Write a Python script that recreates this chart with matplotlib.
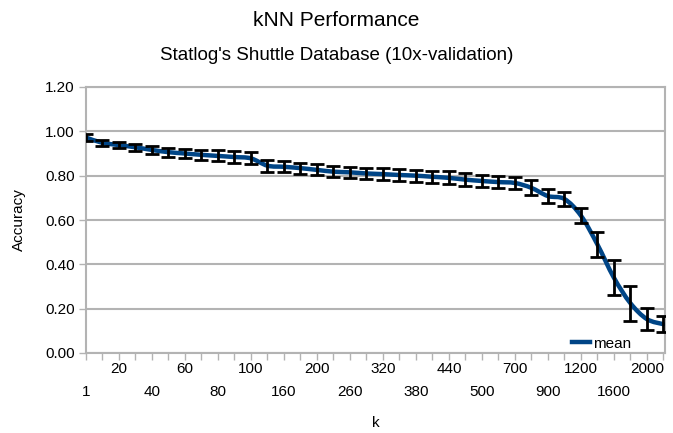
import numpy as np
import matplotlib
matplotlib.use("Agg")
import matplotlib.pyplot as plt
from matplotlib.path import Path
from matplotlib.patches import PathPatch
from matplotlib.lines import Line2D

plt.rcParams['font.family'] = ['Liberation Sans', 'DejaVu Sans']

categories = [1, 10, 20, 30, 40, 50, 60, 70, 80, 90, 100, 130, 160, 180, 200, 230,
              260, 290, 320, 350, 380, 410, 440, 470, 500, 600, 700, 800, 900, 1000,
              1200, 1400, 1600, 1800, 2000, 2200]
mean = [0.972, 0.948, 0.938, 0.928, 0.916, 0.906, 0.900, 0.894, 0.889, 0.884, 0.878,
        0.845, 0.840, 0.834, 0.826, 0.818, 0.815, 0.810, 0.807, 0.803, 0.800, 0.795,
        0.790, 0.782, 0.776, 0.771, 0.767, 0.745, 0.708, 0.695, 0.620, 0.490, 0.340,
        0.225, 0.153, 0.130]
err = [0.014, 0.015, 0.015, 0.016, 0.018, 0.020, 0.022, 0.024, 0.025, 0.027, 0.027,
       0.027, 0.025, 0.025, 0.025, 0.025, 0.025, 0.025, 0.026, 0.027, 0.027, 0.028,
       0.029, 0.029, 0.028, 0.027, 0.027, 0.034, 0.030, 0.030, 0.034, 0.056, 0.080,
       0.079, 0.050, 0.036]
yticks = [0.0, 0.2, 0.4, 0.6, 0.8, 1.0, 1.2]

blue = '#004586'
grid = '#b3b3b3'

fig = plt.figure(figsize=(6.73, 4.33), dpi=100)
ax = fig.add_axes([86/673, 1-353/433, (665-86)/673, (353-87)/433])

x = np.arange(len(categories), dtype=float)
y = np.array(mean)

# smooth curve through points (Catmull-Rom -> cubic Bezier)
verts = [(x[0], y[0])]
codes = [Path.MOVETO]
n = len(x)
for i in range(n - 1):
    p0 = np.array([x[max(i-1, 0)], y[max(i-1, 0)]])
    p1 = np.array([x[i], y[i]])
    p2 = np.array([x[i+1], y[i+1]])
    p3 = np.array([x[min(i+2, n-1)], y[min(i+2, n-1)]])
    c1 = p1 + (p2 - p0) / 6.0
    c2 = p2 - (p3 - p1) / 6.0
    verts += [tuple(c1), tuple(c2), tuple(p2)]
    codes += [Path.CURVE4, Path.CURVE4, Path.CURVE4]
patch = PathPatch(Path(verts, codes), facecolor='none', edgecolor=blue, lw=3.2,
                  capstyle='round', joinstyle='round', zorder=3)
ax.add_patch(patch)

ax.errorbar(x, y, yerr=err, fmt='none', ecolor='black', elinewidth=2.0,
            capsize=5, capthick=2.0, zorder=4)

ax.set_ylim(0, 1.2)
ax.set_xlim(0, 35.1)
ax.set_yticks(yticks)
ax.set_yticklabels([f"{v:.2f}" for v in yticks])
ax.yaxis.grid(True, color=grid, lw=1.5)
ax.set_axisbelow(True)
for s in ax.spines.values():
    s.set_color(grid)
    s.set_linewidth(1.5)

fs = 11
# x ticks: lower row labels (major), upper row labels (minor)
major = [i for i in range(n) if i % 4 == 0]
minor = [i for i in range(n) if i % 4 != 0]
ax.set_xticks(major)
ax.set_xticklabels([str(categories[i]) for i in major])
ax.set_xticks(minor, minor=True)
ax.set_xticklabels([str(categories[i]) if i % 4 == 2 else '' for i in minor], minor=True)
ax.tick_params(axis='x', which='major', length=5, color=grid, width=1, pad=18, labelsize=fs)
ax.tick_params(axis='x', which='minor', length=5, color=grid, width=1, pad=1.5, labelsize=fs)
ax.tick_params(axis='y', length=5, color=grid, width=1, pad=3, labelsize=fs)

ax.set_ylabel('Accuracy', fontsize=fs, labelpad=14)
ax.set_xlabel('k', fontsize=fs, labelpad=12)

fig.text(0.5, 1-20/433, 'kNN Performance', ha='center', va='center', fontsize=15)
fig.text(0.5, 1-56/433, "Statlog's Shuttle Database (10x-validation)", ha='center',
         va='center', fontsize=13.5)

handle = Line2D([], [], color=blue, lw=3.2)
ax.legend([handle], ['mean'], loc='lower right', frameon=False, fontsize=fs,
          handlelength=1.2, handletextpad=0.2, borderaxespad=0.1,
          bbox_to_anchor=(0.955, -0.02))

fig.savefig('out.png', dpi=100)
